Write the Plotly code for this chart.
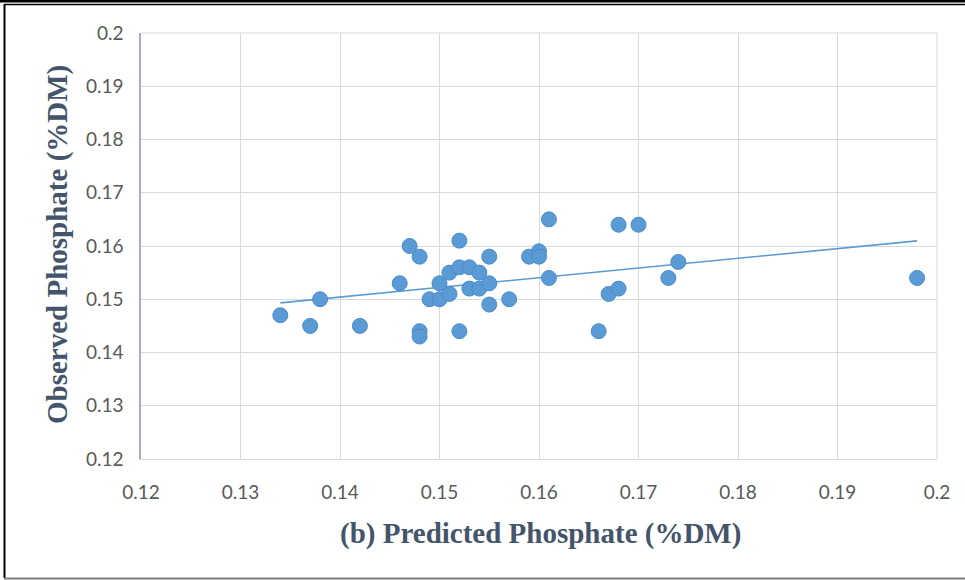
import numpy as np
import plotly.graph_objects as go

predicted = [0.134, 0.137, 0.138, 0.142, 0.146, 0.147, 0.148, 0.148, 0.148, 0.149,
             0.150, 0.150, 0.151, 0.151, 0.152, 0.152, 0.152, 0.153, 0.153, 0.154,
             0.154, 0.155, 0.155, 0.155, 0.157, 0.159, 0.160, 0.160, 0.161, 0.161,
             0.166, 0.167, 0.168, 0.168, 0.170, 0.173, 0.174, 0.198]
observed = [0.147, 0.145, 0.150, 0.145, 0.153, 0.160, 0.158, 0.144, 0.143, 0.150,
            0.150, 0.153, 0.155, 0.151, 0.161, 0.156, 0.144, 0.156, 0.152, 0.155,
            0.152, 0.158, 0.153, 0.149, 0.150, 0.158, 0.159, 0.158, 0.165, 0.154,
            0.144, 0.151, 0.152, 0.164, 0.164, 0.154, 0.157, 0.154]
tick_vals = [0.12, 0.13, 0.14, 0.15, 0.16, 0.17, 0.18, 0.19, 0.2]
tick_text = ["0.12", "0.13", "0.14", "0.15", "0.16", "0.17", "0.18", "0.19", "0.2"]

slope, intercept = np.polyfit(predicted, observed, 1)
tx = [min(predicted), max(predicted)]
ty = [slope * v + intercept for v in tx]

BLUE = "#5B9BD5"
W, H = 965, 580
L, R, T, B = 141, 28, 33, 121
pw, ph = W - L - R, H - T - B


def px(x):
    return (x - L) / pw


def py(y):
    return (H - B - y) / ph


fig = go.Figure()
fig.add_trace(go.Scatter(x=tx, y=ty, mode="lines",
                         line=dict(color=BLUE, width=1.6), hoverinfo="skip"))
fig.add_trace(go.Scatter(x=predicted, y=observed, mode="markers",
                         marker=dict(color=BLUE, size=15,
                                     line=dict(color="#4A8BC8", width=1))))

tickfont = dict(family="Lato, Open Sans, sans-serif", size=19, color="#595959")
title_font = dict(family="Liberation Serif, Times New Roman, serif", size=29, color="#44546A")

fig.update_xaxes(range=[0.12, 0.2], tickvals=tick_vals, ticktext=tick_text,
                 showgrid=True, gridcolor="#D9D9D9", gridwidth=1,
                 zeroline=False, showline=True, linecolor="#D9D9D9", linewidth=1,
                 tickfont=tickfont, ticks="outside", ticklen=0, ticklabelstandoff=16,
                 mirror=False)
fig.update_yaxes(range=[0.12, 0.2], tickvals=tick_vals, ticktext=tick_text,
                 showgrid=True, gridcolor="#D9D9D9", gridwidth=1,
                 zeroline=False, showline=True, linecolor="#A6AEBF", linewidth=1.5,
                 tickfont=tickfont, ticks="outside", ticklen=0, ticklabelstandoff=12)

shapes = [
    dict(type="line", xref="paper", yref="paper", x0=px(0), x1=px(W), y0=py(1), y1=py(1),
         line=dict(color="black", width=3)),
    dict(type="line", xref="paper", yref="paper", x0=px(4), x1=px(W), y0=py(4.5), y1=py(4.5),
         line=dict(color="black", width=1.5)),
    dict(type="line", xref="paper", yref="paper", x0=px(4.5), x1=px(4.5), y0=py(4), y1=py(578),
         line=dict(color="black", width=2)),
    dict(type="line", xref="paper", yref="paper", x0=px(4), x1=px(W), y0=py(578.5), y1=py(578.5),
         line=dict(color="#7F7F7F", width=2)),
    dict(type="line", xref="paper", yref="paper", x0=0, x1=1, y0=1, y1=1,
         line=dict(color="#D9D9D9", width=1)),
    dict(type="line", xref="paper", yref="paper", x0=1, x1=1, y0=0, y1=1,
         line=dict(color="#D9D9D9", width=1)),
]

annotations = [
    dict(text="<b>(b) Predicted Phosphate (%DM)</b>", xref="paper", yref="paper",
         x=px(540), y=py(533), showarrow=False, font=title_font,
         xanchor="center", yanchor="middle"),
    dict(text="<b>Observed Phosphate (%DM)</b>", xref="paper", yref="paper",
         x=px(58), y=py(245), showarrow=False, font=title_font, textangle=-90,
         xanchor="center", yanchor="middle"),
]

fig.update_layout(width=W, height=H, margin=dict(l=L, r=R, t=T, b=B),
                  paper_bgcolor="white", plot_bgcolor="white", showlegend=False,
                  shapes=shapes, annotations=annotations)

fig.write_html("out.html")
